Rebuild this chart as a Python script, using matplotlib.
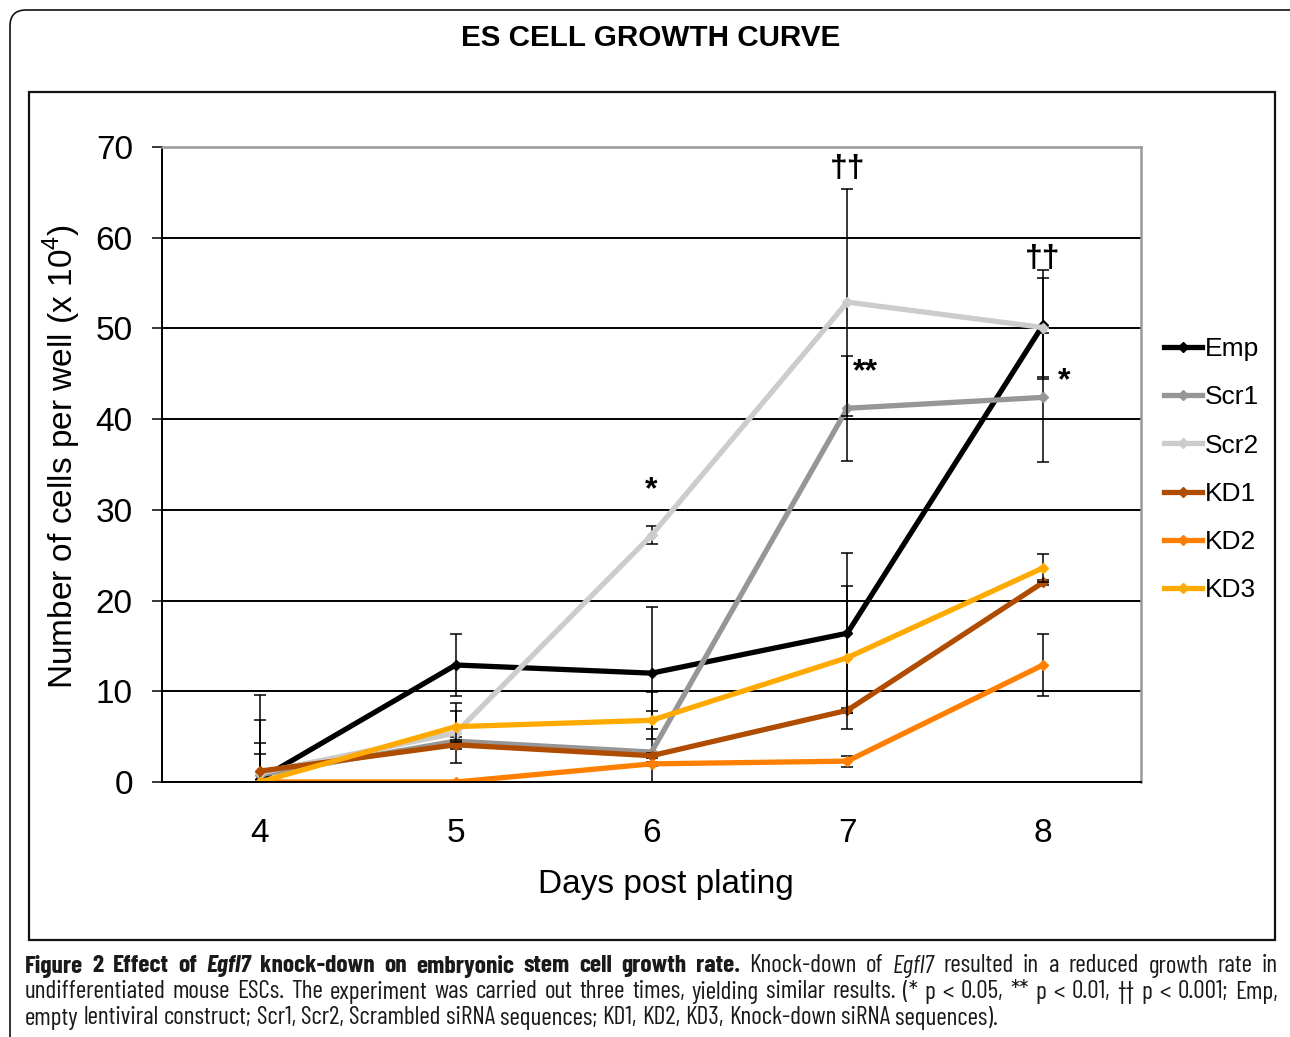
import matplotlib
matplotlib.use('Agg')
import matplotlib.pyplot as plt
from matplotlib import font_manager, patheffects
from matplotlib.patches import FancyBboxPatch, Rectangle
from matplotlib.transforms import IdentityTransform

days = [4, 5, 6, 7, 8]
series = ['Emp', 'Scr1', 'Scr2', 'KD1', 'KD2', 'KD3']
emp = [0.3, 12.9, 12.0, 16.4, 50.4]
scr1 = [0.8, 4.5, 3.3, 41.2, 42.4]
scr2 = [1.0, 5.4, 27.2, 52.9, 50.1]
kd1 = [1.2, 4.1, 2.9, 7.9, 22.0]
kd2 = [0.0, 0.0, 2.0, 2.3, 12.9]
kd3 = [0.0, 6.1, 6.8, 13.7, 23.6]
# error bar half widths
emp_err = [9.3, 3.4, 7.3, 8.8, 6.0]
scr1_err = [3.5, 0.5, 6.6, 5.8, 7.1]
scr2_err = [5.8, 3.3, 1.0, 12.5, 5.5]
kd1_err = [1.9, 0.5, 0.3, 0.3, 0.3]
kd2_err = [0.0, 0.0, 0.2, 0.6, 3.4]
kd3_err = [0.0, 1.7, 1.0, 7.9, 1.5]

values = [emp, scr1, scr2, kd1, kd2, kd3]
errors = [emp_err, scr1_err, scr2_err, kd1_err, kd2_err, kd3_err]
colors = ['#000000', '#969696', '#cccccc', '#b04c00', '#ff7f00', '#ffaa00']

# significance marks: (day, y, text, dx)
marks = [(6, 32.2, '*', 0), (7, 67.6, '††', 0), (7, 45.2, '**', 0.09),
         (8, 57.6, '††', 0), (8, 44.2, '*', 0.11)]

W, H = 1290, 1037
plt.rcParams['font.family'] = ['Liberation Sans', 'DejaVu Sans']
plt.rcParams['mathtext.fontset'] = 'custom'
plt.rcParams['mathtext.rm'] = 'Liberation Sans'

fig = plt.figure(figsize=(W / 100, H / 100), dpi=100)

# outer rounded frame and inner box
fig.patches.append(FancyBboxPatch((10, -20), 1300, H - 10 + 20,
                                  boxstyle='round,pad=0,rounding_size=16',
                                  transform=IdentityTransform(), fill=False,
                                  ec='#111111', lw=1.2, figure=fig))
fig.patches.append(Rectangle((29, H - 940), 1275 - 29, 940 - 92,
                             transform=IdentityTransform(), fill=False,
                             ec='#111111', lw=1.6, figure=fig))

ax = fig.add_axes([162 / W, 1 - 782 / H, (1141 - 162) / W, (782 - 147) / H])

for name, v, e, c in zip(series, values, errors, colors):
    ax.errorbar(days, v, yerr=e, fmt='none', ecolor='k', elinewidth=1.1,
                capsize=4, capthick=1.1)
    ax.plot(days, v, color=c, lw=3.8, marker='D', ms=5, label=name)

for d, y, t, dx in marks:
    ax.text(d + dx, y, t, ha='center', va='center', fontsize=23,
            fontweight='bold')

ax.set_xlim(3.5, 8.5)
ax.set_ylim(0, 70)
ax.set_xticks(days)
ax.set_yticks(range(0, 71, 10))
ax.tick_params(axis='x', length=0, pad=26, labelsize=24)
ax.tick_params(axis='y', length=7, width=1.1, pad=14, labelsize=24)
ax.yaxis.grid(True, color='k', lw=1.4)
ax.set_axisbelow(True)
for s in ['left', 'bottom']:
    ax.spines[s].set_color('k')
    ax.spines[s].set_linewidth(1.4)
for s in ['top', 'right']:
    ax.spines[s].set_color('#999999')
    ax.spines[s].set_linewidth(1.8)

ax.set_xlabel('Days post plating', fontsize=24)
ax.xaxis.set_label_coords((666 - 162) / 979, (782 - 869) / 635)
ax.set_ylabel('Number of cells per well (x 10$^{4}$)', fontsize=24)
ax.yaxis.set_label_coords((83 - 162) / 979, (782 - 457) / 635)

ax.legend(loc='upper left', bbox_to_anchor=(1164 / W, 1 - 337 / H),
          bbox_transform=fig.transFigure, frameon=False, fontsize=19,
          handlelength=1.45, handletextpad=0.1, labelspacing=0.92,
          borderaxespad=0, borderpad=0)

fig.text(651 / W, 1 - 38 / H, 'ES CELL GROWTH CURVE', ha='center',
         va='center', fontsize=21.3, fontweight='bold')

# caption font: a narrow face if one is installed, preferring one with bold
faces = {}
for f in font_manager.fontManager.ttflist:
    if ('Narrow' in f.name or 'Condensed' in f.name) and 'Mono' not in f.name \
            and 'Serif' not in f.name:
        faces.setdefault(f.name, set()).add(int(f.weight) if str(f.weight).isdigit()
                                             else (700 if 'bold' in str(f.weight) else 400))
cap_font = ['Open Sans', 'DejaVu Sans']
has_bold = True
if faces:
    best = max(faces, key=lambda n: (max(faces[n]) >= 600, len(faces[n])))
    cap_font = [best, 'DejaVu Sans']
    has_bold = max(faces[best]) >= 600

line1 = [('Figure 2 Effect of', 'bold', 'normal'), ('Egfl7', 'bold', 'italic'),
         ('knock-down on embryonic stem cell growth rate.', 'bold', 'normal'),
         ('Knock-down of', 'normal', 'normal'), ('Egfl7', 'normal', 'italic'),
         ('resulted in a reduced growth rate in', 'normal', 'normal')]
line2 = [('undifferentiated mouse ESCs. The experiment was carried out three '
          'times, yielding similar results. (* p < 0.05, ** p < 0.01, '
          '†† p < 0.001; Emp,', 'normal', 'normal')]
line3 = [('empty lentiviral construct; Scr1, Scr2, Scrambled siRNA sequences; '
          'KD1, KD2, KD3, Knock-down siRNA sequences).', 'normal', 'normal')]

renderer = fig.canvas.get_renderer()
fake_bold = [patheffects.withStroke(linewidth=0.9, foreground='#1a1a1a')]


def words_of(line):
    out = []
    for text, wt, st in line:
        for w in text.split(' '):
            out.append((w, wt, st))
    return out


def make_text(x, y, s, size, wt='normal', st='normal'):
    t = fig.text(x, y, s, fontsize=size, family=cap_font, fontweight=wt,
                 fontstyle=st, va='center', color='#1a1a1a')
    if wt == 'bold' and not has_bold:
        t.set_path_effects(fake_bold)
    return t


def width_of(s, size, wt='normal', st='normal'):
    t = make_text(0, 0, s, size, wt, st)
    w = t.get_window_extent(renderer).width
    t.remove()
    return w


base = 14
nat = sum(width_of(w, base, wt, st) for w, wt, st in words_of(line3))
nat += (len(words_of(line3)) - 1) * (width_of('a a', base) - 2 * width_of('a', base))
size = base * 975 / nat


def put_line(line, y, justify):
    ws = words_of(line)
    texts = []
    widths = []
    for w, wt, st in ws:
        t = make_text(0, 1 - y / H, w, size, wt, st)
        texts.append(t)
        widths.append(t.get_window_extent(renderer).width)
    if justify:
        gap = (1278 - 25 - sum(widths)) / (len(ws) - 1)
    else:
        gap = width_of('a a', size) - 2 * width_of('a', size)
    x = 25
    for t, w in zip(texts, widths):
        t.set_x(x / W)
        x += w + gap


put_line(line1, 966, True)
put_line(line2, 992, True)
put_line(line3, 1018, False)

fig.savefig('out.png', dpi=100)
